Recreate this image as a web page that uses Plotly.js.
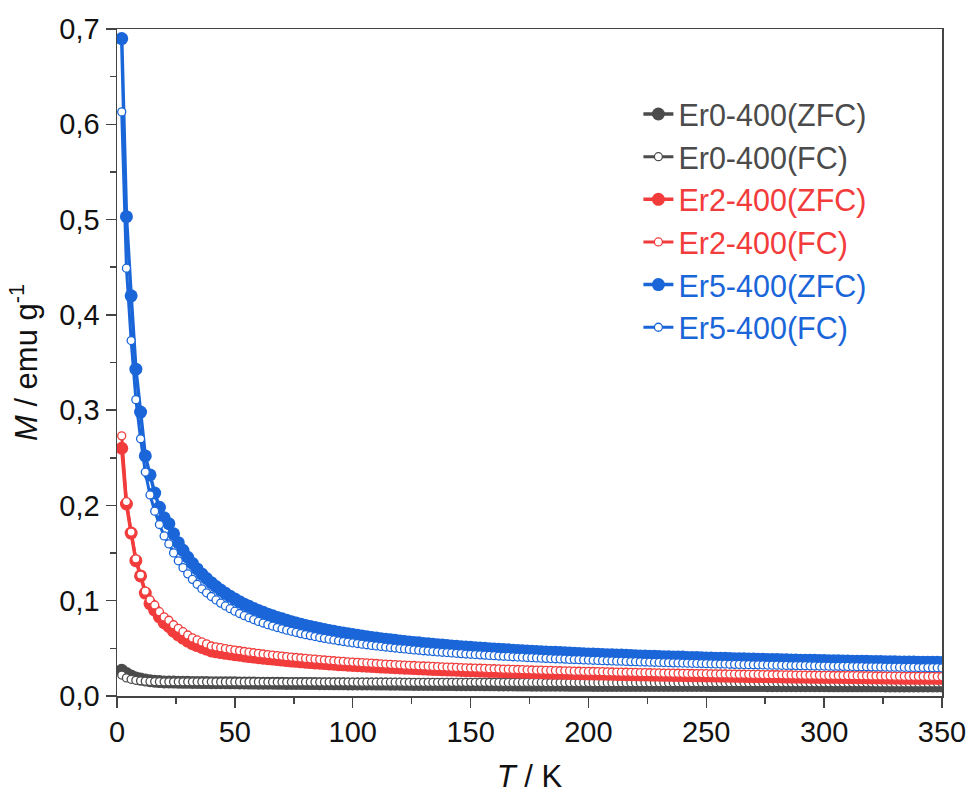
<!DOCTYPE html>
<html>
<head>
<meta charset="utf-8">
<script src="https://cdn.plot.ly/plotly-3.0.1.min.js"></script>
<style>html,body{margin:0;padding:0;background:#fff;}#chart{width:970px;height:798px;}</style>
</head>
<body>
<div id="chart"></div>
<script>
// Temperature grid (K)
const temperature = [
2,4,6,8,10,12,14,16,18,20,
22,24,26,28,30,32,34,36,38,40,
42,44,46,48,50,52,54,56,58,60,
62,64,66,68,70,72,74,76,78,80,
82,84,86,88,90,92,94,96,98,100,
102,104,106,108,110,112,114,116,118,120,
122,124,126,128,130,132,134,136,138,140,
142,144,146,148,150,152,154,156,158,160,
162,164,166,168,170,172,174,176,178,180,
182,184,186,188,190,192,194,196,198,200,
202,204,206,208,210,212,214,216,218,220,
222,224,226,228,230,232,234,236,238,240,
242,244,246,248,250,252,254,256,258,260,
262,264,266,268,270,272,274,276,278,280,
282,284,286,288,290,292,294,296,298,300,
302,304,306,308,310,312,314,316,318,320,
322,324,326,328,330,332,334,336,338,340,
342,344,346,348,350];

// Magnetization (emu/g)
const er0_zfc = [
.027,.0235,.021,.019,.0178,.0168,.016,.0155,.0151,.0148,
.0147,.0146,.0145,.0144,.0143,.0142,.0142,.0141,.0141,.0140,
.0140,.0139,.0139,.0138,.0138,.0137,.0137,.0136,.0136,.0135,
.0135,.0134,.0134,.0133,.0133,.0132,.0132,.0131,.0131,.0130,
.0130,.0130,.0129,.0129,.0129,.0128,.0128,.0128,.0127,.0127,
.0127,.0126,.0126,.0126,.0125,.0125,.0125,.0124,.0124,.0124,
.0123,.0123,.0122,.0122,.0122,.0121,.0121,.0121,.0120,.0120,
.0120,.0119,.0119,.0118,.0118,.0118,.0118,.0117,.0117,.0117,
.0116,.0116,.0116,.0116,.0115,.0115,.0115,.0114,.0114,.0114,
.0114,.0113,.0113,.0113,.0113,.0112,.0112,.0112,.0112,.0112,
.0111,.0111,.0111,.0111,.0111,.0111,.0111,.0111,.0111,.0111,
.0111,.0111,.0110,.0110,.0110,.0110,.0110,.0110,.0110,.0110,
.0110,.0110,.0110,.0110,.0110,.0109,.0109,.0109,.0109,.0109,
.0109,.0109,.0109,.0109,.0109,.0109,.0109,.0108,.0108,.0108,
.0108,.0108,.0108,.0108,.0108,.0108,.0108,.0108,.0108,.0108,
.0107,.0107,.0107,.0107,.0107,.0107,.0107,.0107,.0107,.0107,
.0107,.0107,.0106,.0106,.0106,.0106,.0106,.0106,.0106,.0106,
.0106,.0106,.0106,.0106,.0106];
const er0_fc = [
.022,.019,.0175,.0165,.016,.0156,.0153,.0151,.0150,.0149,
.0149,.0149,.0149,.0149,.0149,.0149,.0149,.0149,.0149,.0149,
.0148,.0148,.0148,.0148,.0148,.0148,.0148,.0148,.0148,.0148,
.0147,.0147,.0147,.0147,.0147,.0147,.0147,.0147,.0147,.0147,
.0146,.0146,.0146,.0146,.0146,.0146,.0146,.0146,.0146,.0146,
.0145,.0145,.0145,.0145,.0145,.0145,.0145,.0145,.0145,.0145,
.0144,.0144,.0144,.0144,.0144,.0144,.0144,.0144,.0144,.0144,
.0143,.0143,.0143,.0143,.0143,.0143,.0143,.0143,.0143,.0143,
.0142,.0142,.0142,.0142,.0142,.0142,.0142,.0142,.0142,.0142,
.0141,.0141,.0141,.0141,.0141,.0141,.0141,.0141,.0141,.0141,
.0140,.0140,.0140,.0140,.0140,.0140,.0140,.0140,.0140,.0140,
.0140,.0140,.0140,.0140,.0140,.0140,.0140,.0140,.0140,.0140,
.0139,.0139,.0139,.0139,.0139,.0139,.0139,.0139,.0139,.0139,
.0139,.0139,.0139,.0139,.0139,.0139,.0139,.0139,.0139,.0139,
.0138,.0138,.0138,.0138,.0138,.0138,.0138,.0138,.0138,.0138,
.0138,.0138,.0138,.0138,.0138,.0138,.0138,.0138,.0138,.0138,
.0137,.0137,.0137,.0137,.0137,.0137,.0137,.0137,.0137,.0137,
.0137,.0137,.0137,.0137,.0137];
const er2_zfc = [
.260,.2015,.171,.142,.126,.108,.097,.090,.083,.077,
.073,.068,.064,.0608,.0576,.0549,.0529,.0510,.0492,.0473,
.0464,.0456,.0448,.0441,.0434,.0428,.0420,.0414,.0409,.0402,
.0397,.0392,.0387,.0382,.0377,.0372,.0367,.0364,.0359,.0355,
.0351,.0347,.0344,.0340,.0337,.0333,.0329,.0327,.0323,.0320,
.0318,.0315,.0312,.0310,.0307,.0304,.0302,.0299,.0297,.0294,
.0292,.0290,.0288,.0285,.0284,.0282,.0279,.0277,.0275,.0274,
.0272,.0270,.0268,.0266,.0265,.0264,.0262,.0260,.0258,.0257,
.0256,.0254,.0253,.0251,.0250,.0248,.0248,.0246,.0245,.0244,
.0242,.0241,.0240,.0239,.0238,.0237,.0235,.0234,.0233,.0232,
.0231,.0230,.0230,.0228,.0227,.0226,.0225,.0224,.0223,.0222,
.0221,.0221,.0220,.0219,.0218,.0217,.0217,.0216,.0215,.0214,
.0213,.0212,.0212,.0212,.0211,.0210,.0209,.0208,.0208,.0207,
.0206,.0205,.0205,.0204,.0203,.0203,.0203,.0202,.0201,.0201,
.0200,.0199,.0199,.0198,.0198,.0197,.0196,.0196,.0195,.0195,
.0194,.0194,.0194,.0193,.0193,.0192,.0192,.0191,.0191,.0190,
.0189,.0189,.0188,.0188,.0187,.0187,.0186,.0186,.0185,.0185,
.0185,.0185,.0185,.0184,.0184];
const er2_fc = [
.273,.204,.172,.144,.127,.110,.101,.0955,.0885,.083,
.0795,.0748,.0710,.0675,.0640,.0610,.0588,.0567,.0547,.0525,
.0516,.0507,.0498,.0490,.0482,.0475,.0467,.0460,.0454,.0447,
.0441,.0435,.0430,.0424,.0419,.0413,.0408,.0404,.0399,.0394,
.0390,.0386,.0382,.0378,.0374,.0370,.0366,.0363,.0359,.0356,
.0353,.0350,.0347,.0344,.0341,.0338,.0335,.0332,.0330,.0327,
.0324,.0322,.0320,.0317,.0315,.0313,.0310,.0308,.0306,.0304,
.0302,.0300,.0298,.0296,.0294,.0293,.0291,.0289,.0287,.0286,
.0284,.0282,.0281,.0279,.0278,.0276,.0275,.0273,.0272,.0271,
.0269,.0268,.0267,.0265,.0264,.0263,.0261,.0260,.0259,.0258,
.0257,.0256,.0255,.0253,.0252,.0251,.0250,.0249,.0248,.0247,
.0246,.0245,.0244,.0243,.0242,.0241,.0241,.0240,.0239,.0238,
.0237,.0236,.0235,.0235,.0234,.0233,.0232,.0231,.0231,.0230,
.0229,.0228,.0228,.0227,.0226,.0226,.0225,.0224,.0223,.0223,
.0222,.0221,.0221,.0220,.0220,.0219,.0218,.0218,.0217,.0217,
.0216,.0215,.0215,.0214,.0214,.0213,.0213,.0212,.0212,.0211,
.0210,.0210,.0209,.0209,.0208,.0208,.0207,.0207,.0206,.0206,
.0206,.0205,.0205,.0204,.0204];
const er5_zfc = [
.690,.503,.420,.343,.298,.252,.232,.213,.198,.187,
.1808,.1702,.1609,.1529,.1456,.1391,.1334,.1280,.1233,.1189,
.1149,.1112,.1078,.1046,.1017,.0990,.0964,.0941,.0918,.0897,
.0878,.0859,.0842,.0825,.0810,.0794,.0780,.0767,.0754,.0741,
.0730,.0719,.0708,.0698,.0688,.0679,.0670,.0661,.0653,.0645,
.0637,.0629,.0623,.0615,.0609,.0602,.0596,.0590,.0584,.0578,
.0573,.0568,.0562,.0558,.0552,.0548,.0543,.0539,.0534,.0531,
.0526,.0522,.0518,.0514,.0511,.0507,.0504,.0500,.0497,.0494,
.0490,.0487,.0485,.0481,.0478,.0476,.0472,.0470,.0468,.0465,
.0462,.0460,.0458,.0456,.0453,.0450,.0449,.0447,.0444,.0442,
.0440,.0438,.0436,.0434,.0432,.0430,.0429,.0427,.0424,.0423,
.0421,.0420,.0418,.0416,.0414,.0413,.0412,.0410,.0409,.0408,
.0405,.0404,.0403,.0402,.0400,.0399,.0397,.0396,.0395,.0393,
.0392,.0391,.0390,.0388,.0387,.0386,.0385,.0384,.0383,.0382,
.0381,.0380,.0378,.0377,.0376,.0376,.0375,.0374,.0373,.0372,
.0371,.0369,.0369,.0368,.0367,.0366,.0365,.0365,.0364,.0363,
.0362,.0362,.0360,.0359,.0359,.0358,.0357,.0356,.0356,.0355,
.0355,.0354,.0353,.0353,.0352];
const er5_fc = [
.613,.449,.373,.311,.270,.235,.211,.194,.180,.168,
.1596,.1502,.1419,.1347,.1282,.1224,.1173,.1125,.1083,.1044,
.1008,.0975,.0945,.0916,.0890,.0866,.0843,.0822,.0802,.0783,
.0766,.0749,.0734,.0719,.0705,.0691,.0679,.0667,.0655,.0644,
.0634,.0624,.0614,.0605,.0596,.0588,.0580,.0572,.0565,.0558,
.0551,.0544,.0538,.0531,.0526,.0520,.0514,.0509,.0504,.0498,
.0494,.0489,.0484,.0480,.0475,.0471,.0467,.0463,.0459,.0456,
.0452,.0448,.0445,.0441,.0438,.0435,.0432,.0429,.0426,.0423,
.0420,.0417,.0415,.0412,.0409,.0407,.0404,.0402,.0400,.0397,
.0395,.0393,.0391,.0389,.0387,.0384,.0383,.0381,.0379,.0377,
.0375,.0373,.0371,.0370,.0368,.0366,.0365,.0363,.0361,.0360,
.0358,.0357,.0355,.0354,.0352,.0351,.0350,.0348,.0347,.0346,
.0344,.0343,.0342,.0341,.0339,.0338,.0337,.0336,.0335,.0333,
.0332,.0331,.0330,.0329,.0328,.0327,.0326,.0325,.0324,.0323,
.0322,.0321,.0320,.0319,.0318,.0318,.0317,.0316,.0315,.0314,
.0313,.0312,.0312,.0311,.0310,.0309,.0308,.0308,.0307,.0306,
.0305,.0305,.0304,.0303,.0303,.0302,.0301,.0300,.0300,.0299,
.0299,.0298,.0297,.0297,.0296];

const seriesNames = ['Er0-400(ZFC)','Er0-400(FC)','Er2-400(ZFC)','Er2-400(FC)','Er5-400(ZFC)','Er5-400(FC)'];
const seriesData = [er0_zfc, er0_fc, er2_zfc, er2_fc, er5_zfc, er5_fc];
const seriesColors = ['#4b4b4b','#4b4b4b','#f23c3c','#f23c3c','#1a66d9','#1a66d9'];
const seriesIsFC = [false,true,false,true,false,true];

const traces = seriesData.map((y, i) => {
  const fc = seriesIsFC[i];
  return {
    x: temperature, y: y, type: 'scatter', mode: 'lines+markers',
    name: '<span style="color:' + seriesColors[i] + '">' + seriesNames[i] + '</span>',
    line: {color: seriesColors[i], width: fc ? 3 : 3.5},
    marker: fc
      ? {symbol: 'circle', size: 8, color: '#ffffff', line: {color: seriesColors[i], width: 1.3}}
      : {symbol: 'circle', size: 13, color: seriesColors[i], line: {width: 0}},
    hoverinfo: 'x+y'
  };
});

const axisCommon = {
  showline: true, mirror: true, linecolor: '#444', linewidth: 1.5,
  ticks: 'outside', ticklen: 10, tickwidth: 1.5, tickcolor: '#444',
  showgrid: false, zeroline: false,
  tickfont: {family: 'Liberation Sans, Arial, sans-serif', size: 29, color: '#111'}
};

const layout = {
  width: 970, height: 798,
  margin: {l: 117, r: 28, t: 29, b: 102},
  paper_bgcolor: '#ffffff', plot_bgcolor: '#ffffff',
  separators: ',.',
  font: {family: 'Liberation Sans, Arial, sans-serif', color: '#111'},
  showlegend: true,
  legend: {
    x: 0.632, y: 0.912, xanchor: 'left', yanchor: 'top',
    bgcolor: 'rgba(0,0,0,0)', borderwidth: 0,
    font: {family: 'Liberation Sans, Arial, sans-serif', size: 30.5},
    tracegroupgap: 0, itemwidth: 30
  },
  xaxis: Object.assign({}, axisCommon, {
    range: [0, 350], tick0: 0, dtick: 50,
    minor: {dtick: 25, ticks: 'outside', ticklen: 6, tickwidth: 1.5, tickcolor: '#444', showgrid: false},
    title: {text: '<i>T</i> / K', font: {size: 31, color: '#111'}, standoff: 18}
  }),
  yaxis: Object.assign({}, axisCommon, {
    range: [0, 0.7], tick0: 0, dtick: 0.1, tickformat: '.1f',
    minor: {dtick: 0.05, ticks: 'outside', ticklen: 6, tickwidth: 1.5, tickcolor: '#444', showgrid: false},
    title: {text: '<i>M</i> / emu g<sup>-1</sup>', font: {size: 31, color: '#111'}, standoff: 12}
  })
};

Plotly.newPlot('chart', traces, layout, {displayModeBar: false, staticPlot: true});
</script>
</body>
</html>
